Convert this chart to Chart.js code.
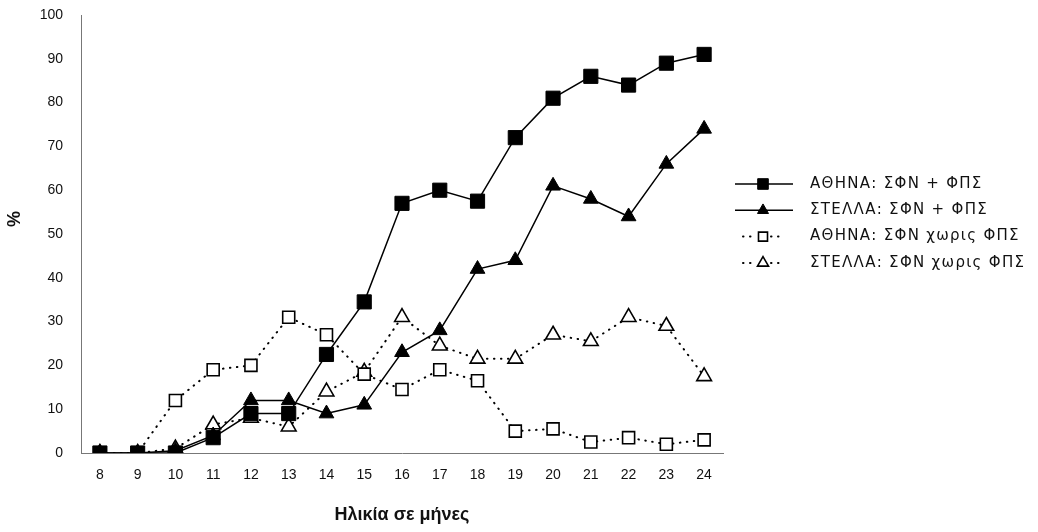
<!DOCTYPE html>
<html>
<head>
<meta charset="utf-8">
<script src="https://cdn.jsdelivr.net/npm/chart.js@4.4.0/dist/chart.umd.min.js"></script>
<style>
  html, body { margin: 0; padding: 0; background: #fff; }
  #wrap { width: 1038px; height: 532px; }
</style>
</head>
<body>
<div id="wrap"><canvas id="chart"></canvas></div>
<script>
// ηλικία σε μήνες
const ages = ['8', '9', '10', '11', '12', '13', '14', '15', '16', '17', '18', '19', '20', '21', '22', '23', '24'];
const athinaWith = [0, 0, 0, 3.5, 9, 9, 22.5, 34.5, 57, 60, 57.5, 72, 81, 86, 84, 89, 91];
const stellaWith = [0, 0, 0.5, 4, 12, 12, 9, 11, 23, 28, 42, 44, 61, 58, 54, 66, 74];
const athinaWithout = [0, 0, 12, 19, 20, 31, 27, 18, 14.5, 19, 16.5, 5, 5.5, 2.5, 3.5, 2, 3];
const stellaWithout = [0, 0, 1, 6.5, 8, 6, 14, 18.5, 31, 24.5, 21.5, 21.5, 27, 25.5, 31, 29, 17.5];
const seriesNames = ['ΑΘΗΝΑ: ΣΦΝ + ΦΠΣ', 'ΣΤΕΛΛΑ: ΣΦΝ + ΦΠΣ', 'ΑΘΗΝΑ: ΣΦΝ χωρις ΦΠΣ', 'ΣΤΕΛΛΑ: ΣΦΝ χωρις ΦΠΣ'];
const yTicks = [0, 10, 20, 30, 40, 50, 60, 70, 80, 90, 100];

const FONT = "'Liberation Sans', Arial, sans-serif";

// υπόμνημα δεξιά: γραμμή + σύμβολο + κείμενο
const sideLegend = {
    id: 'sideLegend',
    afterDraw(chart) {
        const ctx = chart.ctx;
        chart.data.datasets.forEach((ds, i) => {
            const y = 184 + i * 26.3;
            const x0 = 735, x1 = 793;
            ctx.save();
            ctx.strokeStyle = ds.borderColor;
            ctx.lineWidth = ds.borderWidth;
            ctx.lineCap = ds.borderCapStyle || 'butt';
            ctx.setLineDash(ds.borderDash || []);
            if (ds.borderDash) {
                ctx.beginPath(); ctx.moveTo(x0 + 8, y); ctx.lineTo(x0 + 20, y); ctx.stroke();
                ctx.beginPath(); ctx.moveTo(x1 - 22, y); ctx.lineTo(x1 - 8, y); ctx.stroke();
            } else {
                ctx.beginPath(); ctx.moveTo(x0, y); ctx.lineTo(x1, y); ctx.stroke();
            }
            ctx.setLineDash([]);
            ctx.fillStyle = ds.pointBackgroundColor;
            ctx.strokeStyle = ds.pointBorderColor;
            ctx.lineWidth = ds.pointBorderWidth;
            Chart.helpers.drawPoint(ctx, {
                pointStyle: ds.pointStyle,
                radius: ds.pointRadius * 0.75,
                borderWidth: ds.pointBorderWidth,
                rotation: 0
            }, (x0 + x1) / 2 - 1, y);
            ctx.fillStyle = '#111';
            ctx.font = "15px 'DejaVu Sans', sans-serif";
            ctx.letterSpacing = '1.3px';
            ctx.textBaseline = 'middle';
            ctx.textAlign = 'left';
            ctx.fillText(ds.label, 810, y);
            ctx.restore();
        });
    }
};

const solid = (label, data, style, r) => ({
    label: label,
    data: data,
    borderColor: '#000',
    borderWidth: 1.5,
    pointStyle: style,
    pointRadius: r,
    pointBackgroundColor: '#000',
    pointBorderColor: '#000',
    pointBorderWidth: 1,
    tension: 0
});

const dotted = (label, data, style, r) => ({
    label: label,
    data: data,
    borderColor: '#000',
    borderWidth: 2,
    borderDash: [0.5, 6.5],
    borderCapStyle: 'round',
    pointStyle: style,
    pointRadius: r,
    pointBackgroundColor: '#fff',
    pointBorderColor: '#000',
    pointBorderWidth: 1.6,
    tension: 0
});

new Chart(document.getElementById('chart').getContext('2d'), {
    type: 'line',
    data: {
        labels: ages,
        datasets: [
            solid(seriesNames[0], athinaWith, 'rect', 10),
            solid(seriesNames[1], stellaWith, 'triangle', 8.5),
            dotted(seriesNames[2], athinaWithout, 'rect', 8.5),
            dotted(seriesNames[3], stellaWithout, 'triangle', 8.5)
        ]
    },
    options: {
        responsive: true,
        maintainAspectRatio: false,
        animation: false,
        layout: { padding: { top: 0, right: 315, bottom: 0, left: 0 } },
        plugins: {
            legend: { display: false },
            tooltip: { enabled: false }
        },
        scales: {
            x: {
                offset: true,
                grid: { display: false, drawTicks: false },
                border: { display: true, color: '#777', width: 1, dash: [8, 3, 2, 3] },
                ticks: { color: '#111', font: { family: FONT, size: 14 }, padding: 14 },
                title: {
                    display: true,
                    text: 'Ηλικία σε μήνες',
                    color: '#111',
                    font: { family: FONT, size: 18, weight: 'bold' },
                    padding: { top: 4, bottom: 6 }
                },
                afterFit: s => { s.height = 79; }
            },
            y: {
                min: 0,
                max: 100,
                grid: { display: false, drawTicks: false },
                border: { display: true, color: '#777', width: 1, dash: [1, 3] },
                afterBuildTicks: s => { s.ticks = yTicks.map(v => ({ value: v })); },
                ticks: { color: '#111', font: { family: FONT, size: 14 }, padding: 18 },
                title: {
                    display: true,
                    text: '\u00a0\u00a0\u00a0\u00a0\u00a0\u00a0%',
                    color: '#111',
                    font: { family: FONT, size: 18, weight: 'bold' },
                    padding: 4
                },
                afterFit: s => { s.width = 81; s.paddingTop = 15; s.paddingBottom = 8; }
            }
        }
    },
    plugins: [sideLegend]
});
</script>
</body>
</html>
